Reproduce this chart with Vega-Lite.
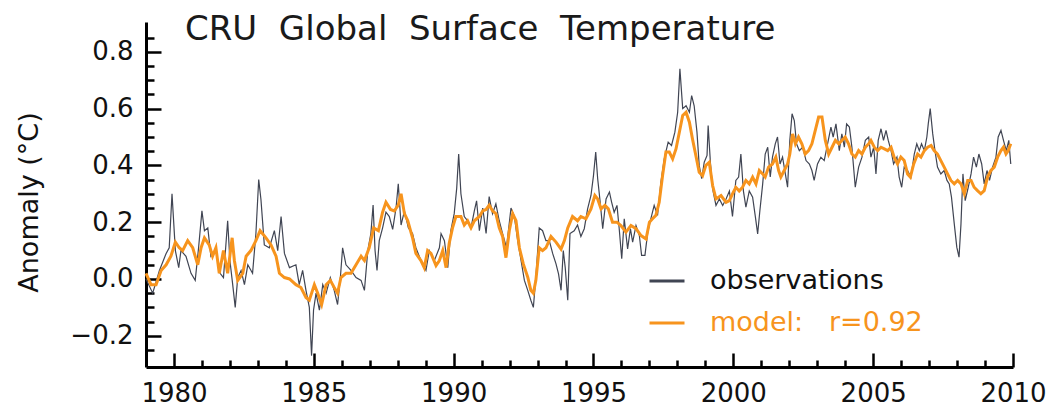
{
 "$schema": "https://vega.github.io/schema/vega-lite/v6.json",
 "width": 867,
 "height": 345,
 "autosize": {"type": "none"},
 "padding": {"left": 146, "top": 22, "right": 40, "bottom": 47},
 "background": "white",
 "config": {"view": {"stroke": null}, "font": "DejaVu Sans"},
 "title": {"text": "CRU\u00a0 Global\u00a0 Surface\u00a0 Temperature", "anchor": "start", "frame": "group", "orient": "top", "offset": 0, "dx": 39, "dy": 52, "baseline": "alphabetic", "font": "DejaVu Sans", "fontSize": 34, "fontWeight": "normal", "color": "#1a1a1a"},
 "datasets": {
  "obs": [
   {"year":1979.00,"anomaly":0.00},{"year":1979.24,"anomaly":-0.05},{"year":1979.48,"anomaly":0.03},{"year":1979.72,"anomaly":0.09},{"year":1979.83,"anomaly":0.11},{"year":1979.93,"anomaly":0.30},{"year":1980.05,"anomaly":0.10},{"year":1980.17,"anomaly":0.04},{"year":1980.25,"anomaly":0.10},{"year":1980.43,"anomaly":0.08},{"year":1980.61,"anomaly":0.02},{"year":1980.76,"anomaly":-0.005},{"year":1980.88,"anomaly":0.11},{"year":1981.00,"anomaly":0.24},{"year":1981.09,"anomaly":0.17},{"year":1981.21,"anomaly":0.18},{"year":1981.32,"anomaly":0.08},{"year":1981.50,"anomaly":0.10},{"year":1981.65,"anomaly":0.02},{"year":1981.77,"anomaly":0.005},{"year":1981.92,"anomaly":0.205},{"year":1982.00,"anomaly":0.065},{"year":1982.10,"anomaly":-0.02},{"year":1982.19,"anomaly":-0.10},{"year":1982.28,"anomaly":0.005},{"year":1982.40,"anomaly":0.03},{"year":1982.52,"anomaly":-0.02},{"year":1982.64,"anomaly":0.05},{"year":1982.81,"anomaly":0.02},{"year":1982.93,"anomaly":0.16},{"year":1983.03,"anomaly":0.35},{"year":1983.11,"anomaly":0.28},{"year":1983.23,"anomaly":0.12},{"year":1983.41,"anomaly":0.11},{"year":1983.59,"anomaly":0.17},{"year":1983.71,"anomaly":0.10},{"year":1983.83,"anomaly":0.22},{"year":1983.95,"anomaly":0.09},{"year":1984.13,"anomaly":0.04},{"year":1984.36,"anomaly":0.05},{"year":1984.48,"anomaly":-0.02},{"year":1984.60,"anomaly":0.03},{"year":1984.72,"anomaly":-0.04},{"year":1984.84,"anomaly":-0.10},{"year":1984.92,"anomaly":-0.27},{"year":1984.99,"anomaly":-0.11},{"year":1985.08,"anomaly":-0.05},{"year":1985.20,"anomaly":-0.11},{"year":1985.32,"anomaly":-0.02},{"year":1985.44,"anomaly":-0.05},{"year":1985.59,"anomaly":0.005},{"year":1985.73,"anomaly":-0.04},{"year":1985.85,"anomaly":-0.09},{"year":1985.95,"anomaly":0.005},{"year":1986.03,"anomaly":0.11},{"year":1986.15,"anomaly":0.05},{"year":1986.33,"anomaly":0.03},{"year":1986.51,"anomaly":0.005},{"year":1986.69,"anomaly":-0.005},{"year":1986.81,"anomaly":-0.04},{"year":1986.93,"anomaly":0.10},{"year":1987.04,"anomaly":0.16},{"year":1987.12,"anomaly":0.26},{"year":1987.19,"anomaly":0.10},{"year":1987.26,"anomaly":0.03},{"year":1987.34,"anomaly":0.135},{"year":1987.46,"anomaly":0.18},{"year":1987.58,"anomaly":0.235},{"year":1987.70,"anomaly":0.22},{"year":1987.82,"anomaly":0.175},{"year":1987.94,"anomaly":0.25},{"year":1988.02,"anomaly":0.335},{"year":1988.12,"anomaly":0.19},{"year":1988.24,"anomaly":0.24},{"year":1988.38,"anomaly":0.18},{"year":1988.53,"anomaly":0.16},{"year":1988.65,"anomaly":0.11},{"year":1988.83,"anomaly":0.065},{"year":1989.01,"anomaly":0.03},{"year":1989.13,"anomaly":0.10},{"year":1989.31,"anomaly":0.065},{"year":1989.49,"anomaly":0.11},{"year":1989.55,"anomaly":0.16},{"year":1989.67,"anomaly":0.135},{"year":1989.79,"anomaly":0.04},{"year":1989.90,"anomaly":0.17},{"year":1990.02,"anomaly":0.23},{"year":1990.11,"anomaly":0.32},{"year":1990.18,"anomaly":0.44},{"year":1990.26,"anomaly":0.30},{"year":1990.38,"anomaly":0.22},{"year":1990.50,"anomaly":0.205},{"year":1990.62,"anomaly":0.18},{"year":1990.74,"anomaly":0.24},{"year":1990.82,"anomaly":0.275},{"year":1990.92,"anomaly":0.17},{"year":1991.04,"anomaly":0.25},{"year":1991.16,"anomaly":0.16},{"year":1991.27,"anomaly":0.29},{"year":1991.39,"anomaly":0.23},{"year":1991.51,"anomaly":0.265},{"year":1991.63,"anomaly":0.205},{"year":1991.75,"anomaly":0.16},{"year":1991.89,"anomaly":0.11},{"year":1992.05,"anomaly":0.25},{"year":1992.17,"anomaly":0.22},{"year":1992.29,"anomaly":0.135},{"year":1992.41,"anomaly":0.065},{"year":1992.53,"anomaly":-0.005},{"year":1992.65,"anomaly":-0.04},{"year":1992.76,"anomaly":-0.075},{"year":1992.85,"anomaly":-0.10},{"year":1992.94,"anomaly":0.006},{"year":1993.06,"anomaly":0.18},{"year":1993.18,"anomaly":0.17},{"year":1993.30,"anomaly":0.135},{"year":1993.42,"anomaly":0.135},{"year":1993.54,"anomaly":0.09},{"year":1993.66,"anomaly":0.053},{"year":1993.75,"anomaly":0.018},{"year":1993.84,"anomaly":-0.04},{"year":1993.92,"anomaly":0.10},{"year":1993.99,"anomaly":0.04},{"year":1994.08,"anomaly":-0.075},{"year":1994.16,"anomaly":0.16},{"year":1994.31,"anomaly":0.17},{"year":1994.43,"anomaly":0.19},{"year":1994.55,"anomaly":0.15},{"year":1994.67,"anomaly":0.177},{"year":1994.79,"anomaly":0.247},{"year":1994.91,"anomaly":0.294},{"year":1995.00,"anomaly":0.364},{"year":1995.08,"anomaly":0.447},{"year":1995.15,"anomaly":0.353},{"year":1995.24,"anomaly":0.27},{"year":1995.33,"anomaly":0.177},{"year":1995.45,"anomaly":0.282},{"year":1995.57,"anomaly":0.306},{"year":1995.65,"anomaly":0.27},{"year":1995.74,"anomaly":0.235},{"year":1995.84,"anomaly":0.259},{"year":1995.92,"anomaly":0.177},{"year":1996.01,"anomaly":0.071},{"year":1996.10,"anomaly":0.212},{"year":1996.22,"anomaly":0.106},{"year":1996.32,"anomaly":0.177},{"year":1996.40,"anomaly":0.13},{"year":1996.52,"anomaly":0.188},{"year":1996.64,"anomaly":0.153},{"year":1996.72,"anomaly":0.083},{"year":1996.84,"anomaly":0.083},{"year":1996.94,"anomaly":0.165},{"year":1997.05,"anomaly":0.212},{"year":1997.17,"anomaly":0.259},{"year":1997.29,"anomaly":0.224},{"year":1997.41,"anomaly":0.34},{"year":1997.53,"anomaly":0.423},{"year":1997.67,"anomaly":0.482},{"year":1997.79,"anomaly":0.47},{"year":1997.91,"anomaly":0.517},{"year":1998.01,"anomaly":0.587},{"year":1998.09,"anomaly":0.74},{"year":1998.19,"anomaly":0.60},{"year":1998.31,"anomaly":0.61},{"year":1998.43,"anomaly":0.587},{"year":1998.51,"anomaly":0.646},{"year":1998.60,"anomaly":0.61},{"year":1998.70,"anomaly":0.517},{"year":1998.78,"anomaly":0.40},{"year":1998.87,"anomaly":0.353},{"year":1998.96,"anomaly":0.411},{"year":1999.06,"anomaly":0.435},{"year":1999.10,"anomaly":0.54},{"year":1999.18,"anomaly":0.411},{"year":1999.26,"anomaly":0.317},{"year":1999.38,"anomaly":0.259},{"year":1999.50,"anomaly":0.282},{"year":1999.62,"anomaly":0.259},{"year":1999.74,"anomaly":0.282},{"year":1999.86,"anomaly":0.31},{"year":1999.97,"anomaly":0.22},{"year":2000.09,"anomaly":0.347},{"year":2000.19,"anomaly":0.359},{"year":2000.27,"anomaly":0.44},{"year":2000.36,"anomaly":0.31},{"year":2000.45,"anomaly":0.253},{"year":2000.57,"anomaly":0.31},{"year":2000.69,"anomaly":0.288},{"year":2000.79,"anomaly":0.218},{"year":2000.87,"anomaly":0.159},{"year":2000.95,"anomaly":0.241},{"year":2001.05,"anomaly":0.335},{"year":2001.14,"anomaly":0.44},{"year":2001.23,"anomaly":0.464},{"year":2001.32,"anomaly":0.359},{"year":2001.40,"anomaly":0.429},{"year":2001.50,"anomaly":0.476},{"year":2001.58,"anomaly":0.50},{"year":2001.67,"anomaly":0.405},{"year":2001.76,"anomaly":0.429},{"year":2001.86,"anomaly":0.37},{"year":2001.94,"anomaly":0.323},{"year":2002.02,"anomaly":0.488},{"year":2002.10,"anomaly":0.582},{"year":2002.18,"anomaly":0.558},{"year":2002.26,"anomaly":0.476},{"year":2002.36,"anomaly":0.452},{"year":2002.48,"anomaly":0.464},{"year":2002.60,"anomaly":0.417},{"year":2002.72,"anomaly":0.405},{"year":2002.81,"anomaly":0.382},{"year":2002.89,"anomaly":0.347},{"year":2003.01,"anomaly":0.405},{"year":2003.13,"anomaly":0.429},{"year":2003.25,"anomaly":0.417},{"year":2003.37,"anomaly":0.476},{"year":2003.49,"anomaly":0.535},{"year":2003.57,"anomaly":0.50},{"year":2003.67,"anomaly":0.546},{"year":2003.79,"anomaly":0.452},{"year":2003.88,"anomaly":0.511},{"year":2003.97,"anomaly":0.464},{"year":2004.05,"anomaly":0.546},{"year":2004.15,"anomaly":0.535},{"year":2004.24,"anomaly":0.464},{"year":2004.36,"anomaly":0.323},{"year":2004.48,"anomaly":0.394},{"year":2004.60,"anomaly":0.429},{"year":2004.72,"anomaly":0.488},{"year":2004.84,"anomaly":0.50},{"year":2004.92,"anomaly":0.429},{"year":2005.02,"anomaly":0.464},{"year":2005.10,"anomaly":0.37},{"year":2005.18,"anomaly":0.488},{"year":2005.28,"anomaly":0.529},{"year":2005.37,"anomaly":0.488},{"year":2005.46,"anomaly":0.523},{"year":2005.54,"anomaly":0.488},{"year":2005.64,"anomaly":0.452},{"year":2005.73,"anomaly":0.405},{"year":2005.85,"anomaly":0.429},{"year":2005.93,"anomaly":0.359},{"year":2006.02,"anomaly":0.323},{"year":2006.11,"anomaly":0.394},{"year":2006.23,"anomaly":0.382},{"year":2006.35,"anomaly":0.359},{"year":2006.47,"anomaly":0.44},{"year":2006.56,"anomaly":0.476},{"year":2006.65,"anomaly":0.452},{"year":2006.73,"anomaly":0.476},{"year":2006.83,"anomaly":0.452},{"year":2006.92,"anomaly":0.50},{"year":2006.97,"anomaly":0.546},{"year":2007.04,"anomaly":0.60},{"year":2007.13,"anomaly":0.511},{"year":2007.21,"anomaly":0.452},{"year":2007.30,"anomaly":0.394},{"year":2007.42,"anomaly":0.37},{"year":2007.54,"anomaly":0.382},{"year":2007.64,"anomaly":0.347},{"year":2007.72,"anomaly":0.335},{"year":2007.80,"anomaly":0.288},{"year":2007.90,"anomaly":0.194},{"year":2007.99,"anomaly":0.112},{"year":2008.07,"anomaly":0.077},{"year":2008.14,"anomaly":0.194},{"year":2008.21,"anomaly":0.37},{"year":2008.29,"anomaly":0.276},{"year":2008.40,"anomaly":0.323},{"year":2008.50,"anomaly":0.37},{"year":2008.59,"anomaly":0.429},{"year":2008.69,"anomaly":0.394},{"year":2008.78,"anomaly":0.44},{"year":2008.88,"anomaly":0.405},{"year":2008.97,"anomaly":0.335},{"year":2009.07,"anomaly":0.382},{"year":2009.16,"anomaly":0.347},{"year":2009.27,"anomaly":0.394},{"year":2009.39,"anomaly":0.429},{"year":2009.47,"anomaly":0.50},{"year":2009.57,"anomaly":0.523},{"year":2009.66,"anomaly":0.488},{"year":2009.76,"anomaly":0.452},{"year":2009.85,"anomaly":0.488},{"year":2009.92,"anomaly":0.405}
  ],
  "model": [
   {"year":1979.00,"anomaly":0.02},{"year":1979.18,"anomaly":-0.02},{"year":1979.36,"anomaly":-0.02},{"year":1979.54,"anomaly":0.03},{"year":1979.72,"anomaly":0.05},{"year":1979.89,"anomaly":0.08},{"year":1980.05,"anomaly":0.13},{"year":1980.19,"anomaly":0.11},{"year":1980.31,"anomaly":0.10},{"year":1980.49,"anomaly":0.135},{"year":1980.67,"anomaly":0.11},{"year":1980.85,"anomaly":0.05},{"year":1980.97,"anomaly":0.11},{"year":1981.09,"anomaly":0.145},{"year":1981.26,"anomaly":0.12},{"year":1981.38,"anomaly":0.08},{"year":1981.50,"anomaly":0.11},{"year":1981.62,"anomaly":0.02},{"year":1981.77,"anomaly":0.10},{"year":1981.92,"anomaly":0.02},{"year":1982.08,"anomaly":0.145},{"year":1982.16,"anomaly":0.065},{"year":1982.28,"anomaly":-0.005},{"year":1982.46,"anomaly":0.02},{"year":1982.58,"anomaly":0.08},{"year":1982.75,"anomaly":0.10},{"year":1982.93,"anomaly":0.135},{"year":1983.08,"anomaly":0.17},{"year":1983.29,"anomaly":0.145},{"year":1983.47,"anomaly":0.12},{"year":1983.65,"anomaly":0.08},{"year":1983.77,"anomaly":0.02},{"year":1983.95,"anomaly":0.005},{"year":1984.13,"anomaly":0.00},{"year":1984.36,"anomaly":-0.02},{"year":1984.54,"anomaly":-0.03},{"year":1984.72,"anomaly":-0.065},{"year":1984.84,"anomaly":-0.075},{"year":1985.02,"anomaly":-0.02},{"year":1985.14,"anomaly":-0.05},{"year":1985.28,"anomaly":-0.09},{"year":1985.44,"anomaly":-0.02},{"year":1985.59,"anomaly":-0.005},{"year":1985.73,"anomaly":-0.03},{"year":1985.85,"anomaly":-0.05},{"year":1985.97,"anomaly":0.005},{"year":1986.15,"anomaly":0.02},{"year":1986.33,"anomaly":0.02},{"year":1986.51,"anomaly":0.05},{"year":1986.69,"anomaly":0.08},{"year":1986.81,"anomaly":0.065},{"year":1986.98,"anomaly":0.11},{"year":1987.14,"anomaly":0.18},{"year":1987.31,"anomaly":0.17},{"year":1987.46,"anomaly":0.235},{"year":1987.58,"anomaly":0.27},{"year":1987.74,"anomaly":0.245},{"year":1987.88,"anomaly":0.24},{"year":1988.02,"anomaly":0.26},{"year":1988.12,"anomaly":0.30},{"year":1988.24,"anomaly":0.23},{"year":1988.36,"anomaly":0.205},{"year":1988.53,"anomaly":0.145},{"year":1988.65,"anomaly":0.09},{"year":1988.83,"anomaly":0.065},{"year":1988.95,"anomaly":0.04},{"year":1989.07,"anomaly":0.10},{"year":1989.19,"anomaly":0.09},{"year":1989.37,"anomaly":0.047},{"year":1989.49,"anomaly":0.065},{"year":1989.61,"anomaly":0.10},{"year":1989.73,"anomaly":0.04},{"year":1989.84,"anomaly":0.125},{"year":1989.96,"anomaly":0.18},{"year":1990.08,"anomaly":0.22},{"year":1990.26,"anomaly":0.22},{"year":1990.38,"anomaly":0.19},{"year":1990.50,"anomaly":0.205},{"year":1990.62,"anomaly":0.18},{"year":1990.74,"anomaly":0.205},{"year":1990.92,"anomaly":0.22},{"year":1991.04,"anomaly":0.24},{"year":1991.16,"anomaly":0.245},{"year":1991.27,"anomaly":0.26},{"year":1991.39,"anomaly":0.24},{"year":1991.51,"anomaly":0.23},{"year":1991.63,"anomaly":0.18},{"year":1991.75,"anomaly":0.15},{"year":1991.87,"anomaly":0.075},{"year":1991.99,"anomaly":0.17},{"year":1992.11,"anomaly":0.23},{"year":1992.23,"anomaly":0.205},{"year":1992.35,"anomaly":0.11},{"year":1992.49,"anomaly":0.053},{"year":1992.65,"anomaly":0.006},{"year":1992.76,"anomaly":-0.04},{"year":1992.85,"anomaly":-0.05},{"year":1992.94,"anomaly":-0.005},{"year":1993.06,"anomaly":0.11},{"year":1993.18,"anomaly":0.10},{"year":1993.30,"anomaly":0.11},{"year":1993.48,"anomaly":0.15},{"year":1993.66,"anomaly":0.13},{"year":1993.84,"anomaly":0.105},{"year":1993.96,"anomaly":0.135},{"year":1994.08,"anomaly":0.18},{"year":1994.25,"anomaly":0.22},{"year":1994.43,"anomaly":0.205},{"year":1994.55,"anomaly":0.22},{"year":1994.73,"anomaly":0.212},{"year":1994.91,"anomaly":0.247},{"year":1995.05,"anomaly":0.294},{"year":1995.15,"anomaly":0.282},{"year":1995.27,"anomaly":0.247},{"year":1995.41,"anomaly":0.259},{"year":1995.53,"anomaly":0.247},{"year":1995.68,"anomaly":0.20},{"year":1995.84,"anomaly":0.20},{"year":1995.98,"anomaly":0.188},{"year":1996.16,"anomaly":0.165},{"year":1996.34,"anomaly":0.188},{"year":1996.52,"anomaly":0.177},{"year":1996.70,"anomaly":0.153},{"year":1996.88,"anomaly":0.141},{"year":1997.00,"anomaly":0.20},{"year":1997.11,"anomaly":0.212},{"year":1997.23,"anomaly":0.224},{"year":1997.35,"anomaly":0.27},{"year":1997.47,"anomaly":0.364},{"year":1997.59,"anomaly":0.447},{"year":1997.71,"anomaly":0.447},{"year":1997.83,"anomaly":0.423},{"year":1997.95,"anomaly":0.458},{"year":1998.07,"anomaly":0.517},{"year":1998.19,"anomaly":0.576},{"year":1998.31,"anomaly":0.587},{"year":1998.43,"anomaly":0.552},{"year":1998.54,"anomaly":0.493},{"year":1998.66,"anomaly":0.435},{"year":1998.78,"anomaly":0.376},{"year":1998.90,"anomaly":0.364},{"year":1999.02,"anomaly":0.40},{"year":1999.14,"anomaly":0.411},{"year":1999.26,"anomaly":0.329},{"year":1999.38,"anomaly":0.282},{"year":1999.56,"anomaly":0.294},{"year":1999.74,"anomaly":0.27},{"year":1999.86,"anomaly":0.276},{"year":1999.97,"anomaly":0.30},{"year":2000.09,"anomaly":0.323},{"year":2000.21,"anomaly":0.31},{"year":2000.33,"anomaly":0.323},{"year":2000.45,"anomaly":0.347},{"year":2000.57,"anomaly":0.335},{"year":2000.69,"anomaly":0.359},{"year":2000.81,"anomaly":0.335},{"year":2000.93,"anomaly":0.382},{"year":2001.05,"anomaly":0.37},{"year":2001.14,"anomaly":0.359},{"year":2001.26,"anomaly":0.394},{"year":2001.40,"anomaly":0.405},{"year":2001.52,"anomaly":0.429},{"year":2001.62,"anomaly":0.382},{"year":2001.70,"anomaly":0.359},{"year":2001.82,"anomaly":0.382},{"year":2001.94,"anomaly":0.405},{"year":2002.02,"anomaly":0.44},{"year":2002.12,"anomaly":0.511},{"year":2002.22,"anomaly":0.476},{"year":2002.33,"anomaly":0.50},{"year":2002.45,"anomaly":0.476},{"year":2002.57,"anomaly":0.44},{"year":2002.69,"anomaly":0.452},{"year":2002.81,"anomaly":0.476},{"year":2002.93,"anomaly":0.523},{"year":2003.05,"anomaly":0.57},{"year":2003.17,"anomaly":0.57},{"year":2003.29,"anomaly":0.488},{"year":2003.41,"anomaly":0.44},{"year":2003.53,"anomaly":0.464},{"year":2003.65,"anomaly":0.488},{"year":2003.77,"anomaly":0.476},{"year":2003.88,"anomaly":0.488},{"year":2004.00,"anomaly":0.50},{"year":2004.12,"anomaly":0.476},{"year":2004.24,"anomaly":0.44},{"year":2004.36,"anomaly":0.429},{"year":2004.48,"anomaly":0.452},{"year":2004.60,"anomaly":0.44},{"year":2004.72,"anomaly":0.464},{"year":2004.84,"anomaly":0.476},{"year":2004.92,"anomaly":0.488},{"year":2005.04,"anomaly":0.464},{"year":2005.16,"anomaly":0.452},{"year":2005.28,"anomaly":0.464},{"year":2005.40,"anomaly":0.458},{"year":2005.52,"anomaly":0.452},{"year":2005.64,"anomaly":0.464},{"year":2005.75,"anomaly":0.429},{"year":2005.87,"anomaly":0.405},{"year":2005.99,"anomaly":0.429},{"year":2006.11,"anomaly":0.417},{"year":2006.23,"anomaly":0.37},{"year":2006.33,"anomaly":0.359},{"year":2006.45,"anomaly":0.405},{"year":2006.59,"anomaly":0.44},{"year":2006.71,"anomaly":0.429},{"year":2006.83,"anomaly":0.452},{"year":2006.95,"anomaly":0.464},{"year":2007.07,"anomaly":0.47},{"year":2007.18,"anomaly":0.452},{"year":2007.30,"anomaly":0.44},{"year":2007.42,"anomaly":0.417},{"year":2007.54,"anomaly":0.394},{"year":2007.66,"anomaly":0.37},{"year":2007.78,"anomaly":0.347},{"year":2007.90,"anomaly":0.335},{"year":2008.02,"anomaly":0.347},{"year":2008.14,"anomaly":0.335},{"year":2008.26,"anomaly":0.30},{"year":2008.38,"anomaly":0.347},{"year":2008.50,"anomaly":0.347},{"year":2008.61,"anomaly":0.323},{"year":2008.73,"anomaly":0.311},{"year":2008.85,"anomaly":0.30},{"year":2008.97,"anomaly":0.311},{"year":2009.09,"anomaly":0.359},{"year":2009.21,"anomaly":0.382},{"year":2009.33,"anomaly":0.394},{"year":2009.45,"anomaly":0.429},{"year":2009.57,"anomaly":0.452},{"year":2009.66,"anomaly":0.464},{"year":2009.75,"anomaly":0.44},{"year":2009.83,"anomaly":0.452},{"year":2009.92,"anomaly":0.476}
  ]
 },
 "layer": [
  {
   "data": {"name": "obs"},
   "mark": {"type": "line", "strokeWidth": 1.2},
   "encoding": {
    "x": {"field": "year", "type": "quantitative",
     "scale": {"domain": [1979, 2010], "nice": false, "zero": false},
     "axis": {"orient": "bottom", "values": [1980, 1985, 1990, 1995, 2000, 2005, 2010], "format": "d", "title": null, "grid": false, "domain": true, "domainColor": "black", "domainWidth": 3, "ticks": true, "tickSize": -14, "tickWidth": 2.5, "tickColor": "black", "labelFont": "DejaVu Sans", "labelFontSize": 26, "labelColor": "#111111", "labelPadding": 27, "labelFlush": false, "labelOverlap": false}},
    "y": {"field": "anomaly", "type": "quantitative",
     "scale": {"domain": [-0.31, 0.905], "nice": false, "zero": false},
     "axis": {"orient": "left", "values": [-0.2, 0, 0.2, 0.4, 0.6, 0.8], "format": ".1f", "title": "Anomaly (°C)", "titleFont": "DejaVu Sans", "titleFontSize": 27, "titleFontWeight": "normal", "titleColor": "#111111", "titleX": -117, "titleY": 180, "titleAngle": -90, "titleAlign": "center", "titleBaseline": "middle", "grid": false, "domain": true, "domainColor": "black", "domainWidth": 3, "ticks": true, "tickSize": -15, "tickWidth": 2.5, "tickColor": "black", "labelFont": "DejaVu Sans", "labelFontSize": 26, "labelColor": "#111111", "labelPadding": 28, "labelFlush": false, "labelOverlap": false}},
    "color": {"datum": "obs", "type": "nominal",
     "scale": {"domain": ["obs", "model"], "range": ["#404553", "#F7941D"]},
     "legend": {"orient": "none", "legendX": 502, "legendY": 240, "title": null, "symbolType": "stroke", "symbolSize": 1225, "symbolStrokeWidth": 3, "labelFont": "DejaVu Sans", "labelFontSize": 27, "labelOffset": 24, "rowPadding": 10, "padding": 0, "labelLimit": 400,
      "labelExpr": "datum.value == 'obs' ? 'observations' : 'model:\u00a0\u00a0 r=0.92'",
      "encode": {"symbols": {"update": {"stroke": {"signal": "datum.value == 'obs' ? '#111111' : '#F7941D'"}}}, "labels": {"update": {"fill": {"signal": "datum.value == 'obs' ? '#111111' : '#F7941D'"}}}}}}
   }
  },
  {
   "data": {"name": "model"},
   "mark": {"type": "line", "strokeWidth": 3},
   "encoding": {
    "x": {"field": "year", "type": "quantitative",
     "axis": {"orient": "bottom", "values": [1981, 1982, 1983, 1984, 1986, 1987, 1988, 1989, 1991, 1992, 1993, 1994, 1996, 1997, 1998, 1999, 2001, 2002, 2003, 2004, 2006, 2007, 2008, 2009], "labels": false, "domain": false, "grid": false, "title": null, "ticks": true, "tickSize": -7, "tickWidth": 2.5, "tickColor": "black"}},
    "y": {"field": "anomaly", "type": "quantitative",
     "axis": {"orient": "left", "values": [-0.25, -0.15, -0.1, -0.05, 0.05, 0.1, 0.15, 0.25, 0.3, 0.35, 0.45, 0.5, 0.55, 0.65, 0.7, 0.75, 0.85], "labels": false, "domain": false, "grid": false, "title": null, "ticks": true, "tickSize": -8, "tickWidth": 2.5, "tickColor": "black"}},
    "color": {"datum": "model", "type": "nominal"}
   }
  }
 ],
 "resolve": {"axis": {"x": "independent", "y": "independent"}}
}
